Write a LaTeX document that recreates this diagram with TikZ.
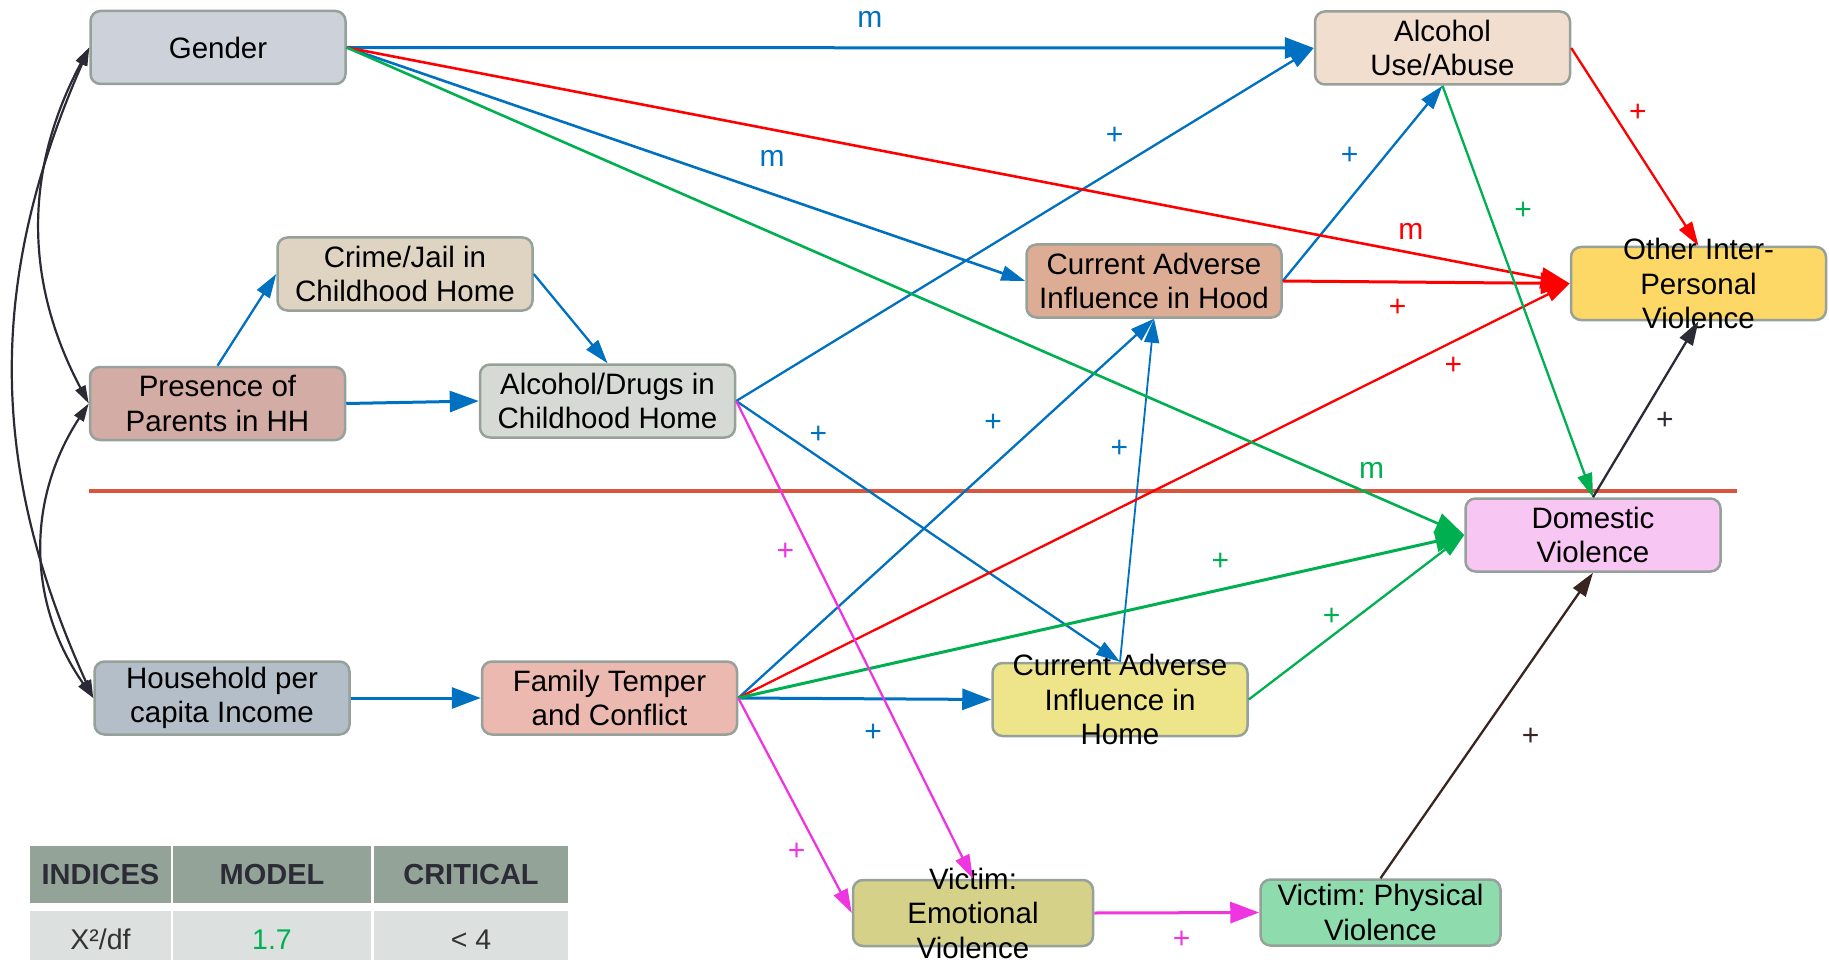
\documentclass[tikz,border=0pt]{standalone}
\usepackage{fontspec}
\setmainfont{Liberation Sans}
\usetikzlibrary{arrows.meta}
\frenchspacing
\definecolor{boxline}{HTML}{95A199}
\definecolor{cGender}{HTML}{CDD2DA}
\definecolor{cAlcUse}{HTML}{F1DECE}
\definecolor{cCrime}{HTML}{DFD3C1}
\definecolor{cParents}{HTML}{D4ACA6}
\definecolor{cAlcDrugs}{HTML}{D5DAD5}
\definecolor{cHood}{HTML}{DCAD94}
\definecolor{cOther}{HTML}{FED867}
\definecolor{cDV}{HTML}{F8C6F3}
\definecolor{cIncome}{HTML}{B4BEC8}
\definecolor{cTemper}{HTML}{EBB9AF}
\definecolor{cHome}{HTML}{EEE48A}
\definecolor{cEmot}{HTML}{D5D188}
\definecolor{cPhys}{HTML}{8EDBAE}
\definecolor{cBlue}{HTML}{0070C0}
\definecolor{cRed}{HTML}{FF0000}
\definecolor{cGreen}{HTML}{00B050}
\definecolor{cPink}{HTML}{EE35E0}
\definecolor{cDark}{HTML}{2B2B35}
\definecolor{cBrown}{HTML}{3A2420}
\definecolor{sepline}{HTML}{D9553D}
\definecolor{tabhead}{HTML}{94A398}
\definecolor{tabrow}{HTML}{DCE0DE}
\definecolor{tabtext}{HTML}{2B2C36}
\definecolor{tabval}{HTML}{333333}
\begin{document}
\begin{tikzpicture}[x=1pt, y=-1pt,
  var/.style={draw=boxline, line width=2.5pt, rounded corners=10pt, fill=#1,
    minimum width=255pt, minimum height=73pt, inner sep=4pt, align=center,
    font=\fontsize{29.5}{34.5}\selectfont},
  tall/.style={inner ysep=-13pt},
  vict/.style={minimum width=240pt, minimum height=66pt},
  sgn/.style={font=\fontsize{30}{30}\selectfont, inner sep=1pt},
  link/.style={line width=2.3pt, -{Triangle[length=24pt, width=15pt]}},
  biglink/.style={line width=3pt, -{Triangle[length=29pt, width=21pt]}},
  corr/.style={line width=2.2pt, draw=cDark,
    {Triangle[length=18pt, width=11pt]}-{Triangle[length=18pt, width=11pt]}},
  hdr/.style={fill=tabhead, text=tabtext, minimum height=57pt, inner sep=0pt,
    font=\fontsize{29}{30}\selectfont\bfseries},
  cell/.style={fill=tabrow, text=tabval, minimum height=57pt, inner sep=0pt,
    font=\fontsize{28.5}{30}\selectfont}]
\useasboundingbox (0,0) rectangle (1829,960);

% variables
\node[var=cGender] (gender) at (218,47.5) {Gender};
\node[var=cAlcUse] (alcuse) at (1442.5,48) {Alcohol\\Use/Abuse};
\node[var=cCrime] (crime) at (405,274) {Crime/Jail in\\Childhood Home};
\node[var=cParents] (parents) at (217.5,403.5) {Presence of\\Parents in HH};
\node[var=cAlcDrugs] (alcdrugs) at (607.5,401) {Alcohol/Drugs in\\Childhood Home};
\node[var=cHood] (hood) at (1154,281) {Current Adverse\\Influence in Hood};
\node[var=cOther, tall] (other) at (1698.5,283.5) {Other Inter-\\Personal\\Violence};
\node[var=cDV] (dv) at (1593,535) {Domestic\\Violence};
\node[var=cIncome] (income) at (222,698) {Household per\\capita Income};
\node[var=cTemper] (temper) at (609.5,698) {Family Temper\\and Conflict};
\node[var=cHome, tall] (home) at (1120,699.5) {Current Adverse\\Influence in\\Home};
\node[var=cEmot, vict, tall] (emot) at (973,913) {Victim:\\Emotional\\Violence};
\node[var=cPhys, vict] (phys) at (1380.5,912.5) {Victim: Physical\\Violence};

\draw[sepline, line width=4pt] (89,491) -- (1737,491);

% blue paths
\draw[biglink, cBlue] (gender.east) -- node[sgn, pos=.541, above=18pt] (mA) {m} (alcuse.west);
\draw[link, cBlue, line width=2.6pt] (gender.east) -- node[sgn, pos=.627, above=25pt] (mB) {m} (hood.west);
\draw[link, cBlue] (alcdrugs.east) -- node[sgn, pos=.655, above=23pt] (pA) {+} (alcuse.west);
\draw[link, cBlue] (alcdrugs.east) -- node[sgn, pos=.214, above=11pt] (pB) {+} (home.north);
\draw[link, cBlue] (hood.east) -- node[sgn, pos=.643, left=25pt] (pC) {+} (alcuse.south);
\draw[link, cBlue] (temper.east) -- node[sgn, pos=.726, left=36pt] (pD) {+} (hood.south);
\draw[link, cBlue, line width=1.8pt] (home.north) -- node[sgn, pos=.62, left=11pt] (pE) {+} (hood.south);
\draw[biglink, cBlue] (temper.east) -- node[sgn, pos=.533, below=23pt] (pF) {+} (home.west);
\draw[biglink, cBlue] (parents.east) -- (alcdrugs.west);
\draw[link, cBlue] (parents.north) -- (crime.west);
\draw[link, cBlue] (crime.east) -- (alcdrugs.north);
\draw[biglink, cBlue] (income.east) -- (temper.west);

% red paths
\draw[biglink, cRed, line width=2.6pt] (gender.east) -- node[sgn, pos=.87, above=11.5pt] (mC) {m} (other.west);
\draw[biglink, cRed] (hood.east) -- node[sgn, pos=.40, below=15pt] (pG) {+} (other.west);
\draw[link, cRed] (temper.east) -- node[sgn, pos=.86, below=14pt] (pH) {+} (other.west);
\draw[link, cRed] (alcuse.east) -- node[sgn, pos=.328, right=14pt] (pI) {+} (other.north);

% green paths
\draw[biglink, cGreen, line width=2.6pt] (gender.east) -- node[sgn, pos=.917, above=13.5pt] (mD) {m} (dv.west);
\draw[link, cGreen] (alcuse.south) -- node[sgn, pos=.303, right=24pt] (pJ) {+} (dv.north);
\draw[biglink, cGreen] (temper.east) -- node[sgn, pos=.664, above=17pt] (pK) {+} (dv.west);
\draw[link, cGreen] (home.east) -- node[sgn, pos=.384, above=9pt] (pL) {+} (dv.west);

% victim paths
\draw[link, cPink] (alcdrugs.east) -- node[sgn, pos=.315, left=14.5pt] (pM) {+} (emot.north);
\draw[link, cPink] (temper.east) -- node[sgn, pos=.716, left=12pt] (pN) {+} (emot.west);
\draw[biglink, cPink] (emot.east) -- node[sgn, pos=.53, below=16pt] (pO) {+} (phys.west);
\draw[link, cDark] (dv.north) -- node[sgn, pos=.435, right=15pt] (pP) {+} (other.south);
\draw[link, cBrown] (phys.north) -- node[sgn, pos=.4625, right=41pt] (pQ) {+} (dv.south);

% covariances
\draw[corr] (gender.west) to[bend right=28] (parents.west);
\draw[corr] (gender.west) to[bend right=24] (income.west);
\draw[corr] (parents.west) to[bend right=34] (income.west);

% fit table
\node[hdr, minimum width=141pt] (tIdx) at (100.5,874.5) {INDICES};
\node[hdr, minimum width=198pt] (tMod) at (272,874.5) {MODEL};
\node[hdr, minimum width=194pt] (tCrit) at (471,874.5) {CRITICAL};
\node[cell, minimum width=141pt] (vIdx) at (100.5,939.5) {X²/df};
\node[cell, minimum width=198pt, text=cGreen] (vMod) at (272,939.5) {1.7};
\node[cell, minimum width=194pt] (vCrit) at (471,939.5) {< 4};
\end{tikzpicture}
\end{document}
